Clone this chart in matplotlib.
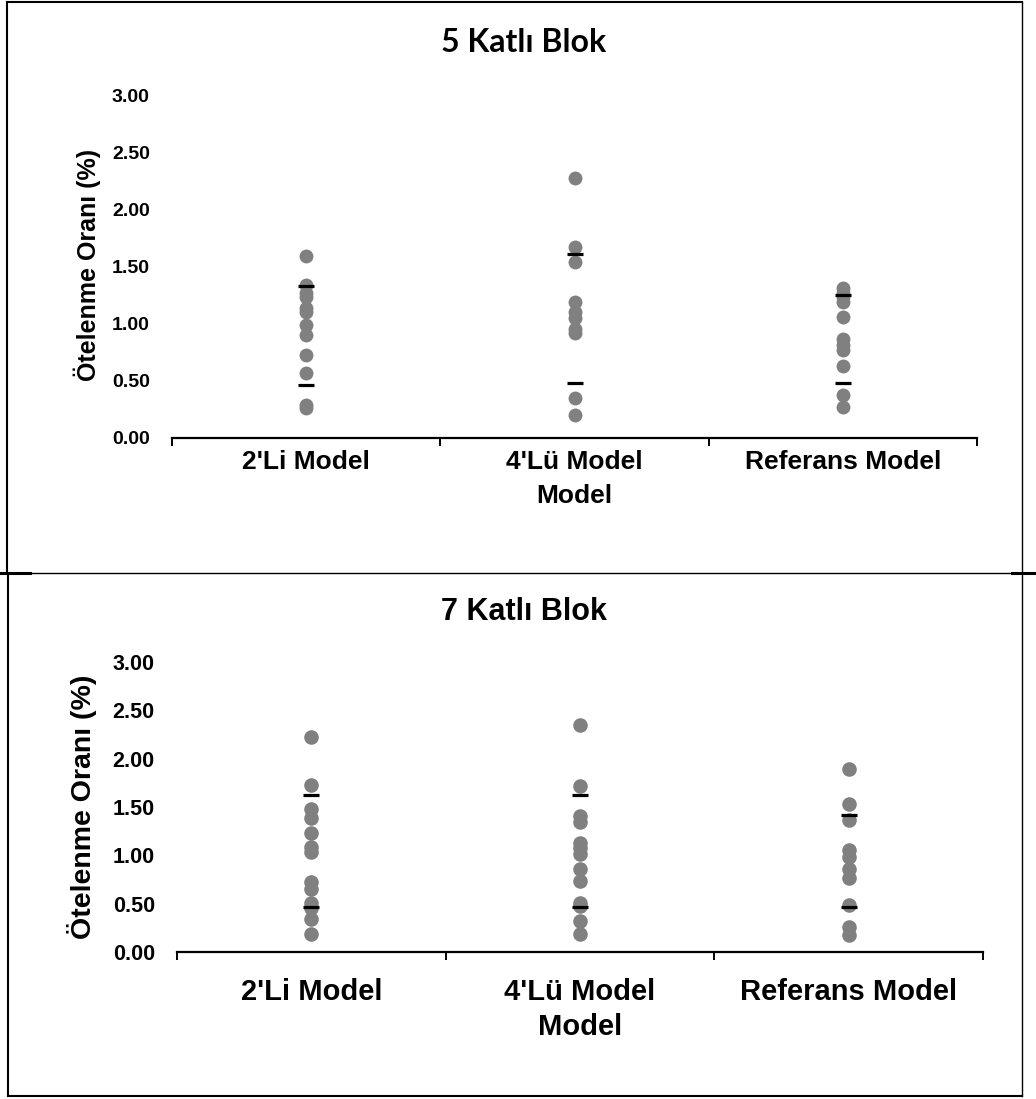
import matplotlib
matplotlib.use("Agg")
import matplotlib.pyplot as plt
from matplotlib import font_manager
from matplotlib.lines import Line2D

# ---------------- data ----------------
categories = ["2'Li Model", "4'Lü Model\nModel", "Referans Model"]
top_title = "5 Katlı Blok"
bottom_title = "7 Katlı Blok"
ylabel_text = "Ötelenme Oranı (%)"
yticks = [0.0, 0.5, 1.0, 1.5, 2.0, 2.5, 3.0]
ytick_labels = ["0.00", "0.50", "1.00", "1.50", "2.00", "2.50", "3.00"]

# 5 Katlı Blok (top)
top_2li = [1.59, 1.34, 1.27, 1.23, 1.14, 1.10, 0.99, 0.90, 0.73, 0.57, 0.29, 0.26]
top_4lu = [2.27, 1.67, 1.54, 1.19, 1.10, 1.05, 0.95, 0.92, 0.35, 0.20]
top_ref = [1.31, 1.27, 1.23, 1.19, 1.06, 0.87, 0.81, 0.77, 0.63, 0.38, 0.27]
top_upper = [1.33, 1.61, 1.25]
top_lower = [0.46, 0.48, 0.48]

# 7 Katlı Blok (bottom)
bot_2li = [2.22, 1.73, 1.48, 1.39, 1.23, 1.09, 1.03, 0.72, 0.65, 0.51, 0.46, 0.34, 0.19]
bot_4lu = [2.35, 1.72, 1.41, 1.34, 1.13, 1.08, 1.01, 0.86, 0.73, 0.51, 0.48, 0.32, 0.19]
bot_ref = [1.89, 1.53, 1.37, 1.06, 0.98, 0.86, 0.77, 0.49, 0.26, 0.18]
bot_upper = [1.62, 1.62, 1.42]
bot_lower = [0.47, 0.47, 0.47]

# ---------------- style ----------------
avail = {f.name for f in font_manager.fontManager.ttflist}
ARIAL = "Liberation Sans" if "Liberation Sans" in avail else "DejaVu Sans"
CAL = "Lato" if "Lato" in avail else ARIAL
plt.rcParams["font.family"] = [ARIAL, "DejaVu Sans"]

W, H = 1036, 1099
fig = plt.figure(figsize=(W / 100, H / 100), dpi=100)

GRAY = "#808080"


def px(x, y):
    return x / W, 1 - y / H


def draw_panel(rect, series, upper, lower, tick_fs, xlab_fs, ypad, xpad, msize, lsp):
    ax = fig.add_axes(rect)
    xs = [0.5, 1.5, 2.5]
    for x, vals in zip(xs, series):
        ax.plot([x] * len(vals), vals, linestyle="none", marker="o",
                markersize=msize, color=GRAY, markeredgewidth=0, zorder=3)
    ax.plot(xs, upper, linestyle="none", marker="_", markersize=11,
            markeredgewidth=2.3, color="black", zorder=4)
    ax.plot(xs, lower, linestyle="none", marker="_", markersize=11,
            markeredgewidth=2.3, color="black", zorder=4)
    ax.set_xlim(0, 3)
    ax.set_ylim(0, 3)
    for s in ["top", "right", "left"]:
        ax.spines[s].set_visible(False)
    ax.spines["bottom"].set_linewidth(1.6)
    ax.set_yticks(yticks)
    ax.set_yticklabels(ytick_labels, fontsize=tick_fs, fontweight="bold")
    ax.tick_params(axis="y", length=0, pad=ypad)
    ax.set_xticks([0, 1, 2, 3])
    ax.set_xticklabels([])
    ax.tick_params(axis="x", which="major", direction="out", length=6, width=1.4)
    ax.set_xticks(xs, minor=True)
    ax.set_xticklabels(categories, minor=True, fontsize=xlab_fs, fontweight="bold",
                       linespacing=lsp)
    ax.tick_params(axis="x", which="minor", length=0, pad=xpad)
    ax.patch.set_alpha(0)
    return ax


# top panel
l, b = px(172, 438)
r, t = px(977, 95)
draw_panel([l, b, r - l, t - b], [top_2li, top_4lu, top_ref], top_upper, top_lower,
           tick_fs=14, xlab_fs=19, ypad=16, xpad=9, msize=10, lsp=1.5)

# bottom panel
l, b = px(177, 952)
r, t = px(983, 662)
draw_panel([l, b, r - l, t - b], [bot_2li, bot_4lu, bot_ref], bot_upper, bot_lower,
           tick_fs=15.5, xlab_fs=21, ypad=16, xpad=19, msize=10.5, lsp=1.3)

# titles
x, y = px(524, 43)
fig.text(x, y, top_title, ha="center", va="center", fontsize=23, fontweight="bold",
         family=[CAL, "DejaVu Sans"])
x, y = px(524, 612)
fig.text(x, y, bottom_title, ha="center", va="center", fontsize=22, fontweight="bold")

# y labels
x, y = px(87, 265)
fig.text(x, y, ylabel_text, ha="center", va="center", rotation=90, fontsize=18,
         fontweight="bold")
x, y = px(82, 807)
fig.text(x, y, ylabel_text, ha="center", va="center", rotation=90, fontsize=20.5,
         fontweight="bold")


# frames
def fline(x0, y0, x1, y1, lw):
    a0, b0 = px(x0, y0)
    a1, b1 = px(x1, y1)
    fig.add_artist(Line2D([a0, a1], [b0, b1], transform=fig.transFigure,
                          color="black", linewidth=lw, solid_capstyle="projecting"))


fline(7, 2, 1022, 2, 1.5)
fline(7, 2, 7, 573, 1.5)
fline(1022, 2, 1022, 573, 1.0)
fline(8, 573, 1036, 573, 1.0)
fline(8, 573, 8, 1096, 1.5)
fline(8, 1096, 1022, 1096, 1.5)
fline(1022, 573, 1022, 1096, 1.0)
fline(0, 573, 30, 573, 2.2)
fline(1012, 573, 1036, 573, 2.2)

fig.savefig("out.png", dpi=100)
